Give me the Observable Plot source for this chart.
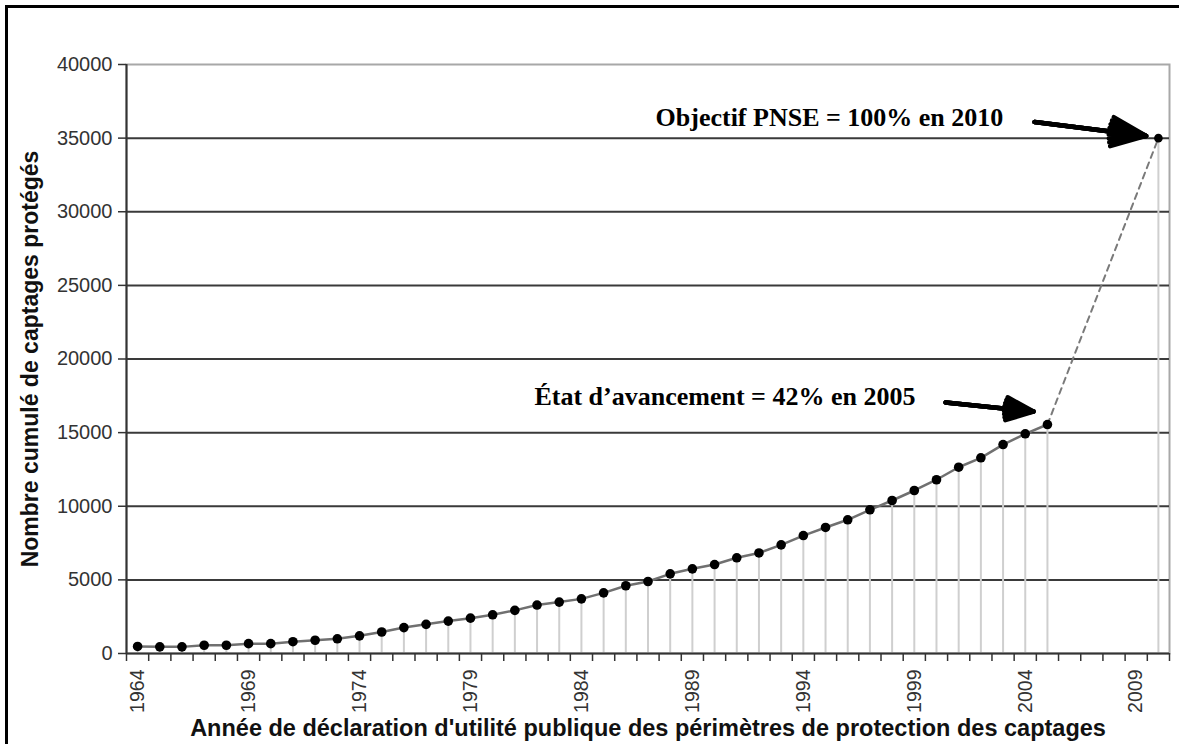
<!DOCTYPE html>
<html>
<head>
<meta charset="utf-8">
<script src="https://cdn.jsdelivr.net/npm/d3@7"></script>
<script src="https://cdn.jsdelivr.net/npm/@observablehq/plot@0.6"></script>
<style>
  html, body { margin: 0; padding: 0; background: #fff; overflow: hidden; }
  #wrap { position: relative; width: 1179px; height: 744px; }
  #border { position: absolute; left: 5px; top: 5px; width: 1300px; height: 900px;
            border: 3px solid #000; pointer-events: none; }
</style>
</head>
<body>
<div id="wrap"><div id="chart"></div><div id="border"></div></div>
<script>
// Observed cumulative number of protected water catchments per year
const years = [1964,1965,1966,1967,1968,1969,1970,1971,1972,1973,1974,1975,1976,1977,1978,1979,1980,1981,1982,1983,1984,1985,1986,1987,1988,1989,1990,1991,1992,1993,1994,1995,1996,1997,1998,1999,2000,2001,2002,2003,2004,2005];
const values = [480,450,450,560,560,670,670,800,900,1000,1200,1460,1760,1980,2200,2400,2630,2930,3290,3490,3710,4120,4600,4890,5410,5750,6040,6500,6830,7380,8010,8560,9080,9760,10390,11070,11800,12650,13290,14190,14920,15550];
// Target
const targetYear = 2010;
const targetValue = 35000;

// Axis ticks
const yTicks = [0,5000,10000,15000,20000,25000,30000,35000,40000];
const gridTicks = [5000,10000,15000,20000,25000,30000,35000];
const xLabelYears = [1964,1969,1974,1979,1984,1989,1994,1999,2004,2009];
const categoryYears = d3.range(1964, 2011);

// Text
const yTitle = "Nombre cumulé de captages protégés";
const xTitle = "Année de déclaration d'utilité publique des périmètres de protection des captages";
const annotTexts = ["Objectif PNSE = 100% en 2010", "État d’avancement = 42% en 2005"];
const annotX = [1987.34, 1999.05];
const annotY = [35800, 16900];
const annotAnchor = ["start", "end"];
const arrowX1 = [2004.42, 2000.41];
const arrowY1 = [36100, 17050];
const arrowX2 = [2009.45, 2004.37];
const arrowY2 = [35150, 16430];
const headAngles = [46, 34, 22, 10];

const observed = years.map((y, i) => ({year: y, value: values[i]}));
const all = observed.concat([{year: targetYear, value: targetValue}]);
const projection = [observed[observed.length - 1], {year: targetYear, value: targetValue}];
const boundaries = categoryYears.map(y => y - 0.5).concat([categoryYears[categoryYears.length - 1] + 0.5]);
const annots = annotTexts.map((t, i) => ({text: t, x: annotX[i], y: annotY[i], anchor: annotAnchor[i]}));
const arrows = arrowX1.map((x, i) => ({x1: x, y1: arrowY1[i], x2: arrowX2[i], y2: arrowY2[i]}));

const sans = "'Liberation Sans', Arial, sans-serif";
const serif = "'Liberation Serif', 'Times New Roman', serif";

const chart = Plot.plot({
  width: 1179,
  height: 744,
  marginLeft: 126,
  marginRight: 10,
  marginTop: 64,
  marginBottom: 91,
  style: {fontFamily: sans, background: "#fff", color: "#333"},
  x: {type: "linear", domain: [boundaries[0], boundaries[boundaries.length - 1]]},
  y: {domain: [0, 40000]},
  marks: [
    Plot.frame({stroke: "#a8a8a8", strokeWidth: 2}),
    Plot.gridY(gridTicks, {stroke: "#3a3a3a", strokeOpacity: 1, strokeWidth: 2}),
    Plot.ruleX(all, {x: "year", y1: 0, y2: "value", stroke: "#cfcfcf", strokeWidth: 2}),
    Plot.line(projection, {x: "year", y: "value", stroke: "#7a7a7a", strokeWidth: 2, strokeDasharray: "6,5"}),
    Plot.line(observed, {x: "year", y: "value", stroke: "#707070", strokeWidth: 2.5}),
    Plot.dot(observed, {x: "year", y: "value", r: 4.8, fill: "#000", stroke: "none"}),
    Plot.dot([{year: targetYear, value: targetValue}], {x: "year", y: "value", r: 4.3, fill: "#000", stroke: "none"}),
    Plot.ruleX([boundaries[0]], {stroke: "#333", strokeWidth: 2}),
    Plot.ruleY([0], {stroke: "#333", strokeWidth: 2}),
    Plot.axisY(yTicks, {tickSize: 8, tickPadding: 6, fontSize: 20, tickFormat: d => String(d), stroke: "#333", strokeWidth: 1.5, fill: "#333", label: null}),
    Plot.axisX(boundaries, {tickSize: 8, tickFormat: () => "", stroke: "#333", strokeWidth: 1.5, label: null}),
    Plot.axisX(xLabelYears, {tickSize: 0, tickPadding: 16, tickRotate: -90, fontSize: 19.5, tickFormat: d => String(d), fill: "#333", label: null}),
    Plot.text([yTitle], {frameAnchor: "left", dx: -96, rotate: -90, textAnchor: "middle", fontSize: 23, fontWeight: "bold", fill: "#111"}),
    Plot.text([xTitle], {frameAnchor: "bottom", dy: 82, lineAnchor: "bottom", textAnchor: "middle", fontSize: 23.5, fontWeight: "bold", fill: "#111"}),
    ...headAngles.map(a => Plot.arrow(arrows, {x1: "x1", y1: "y1", x2: "x2", y2: "y2", stroke: "#000", strokeWidth: 4.5, headLength: 17, headAngle: a})),
    Plot.text(annots.filter(d => d.anchor === "start"), {x: "x", y: "y", text: "text", textAnchor: "start", lineAnchor: "bottom", fontFamily: serif, fontWeight: "bold", fontSize: 26, fill: "#000"}),
    Plot.text(annots.filter(d => d.anchor === "end"), {x: "x", y: "y", text: "text", textAnchor: "end", lineAnchor: "bottom", fontFamily: serif, fontWeight: "bold", fontSize: 26, fill: "#000"})
  ]
});
document.getElementById("chart").appendChild(chart);
</script>
</body>
</html>
